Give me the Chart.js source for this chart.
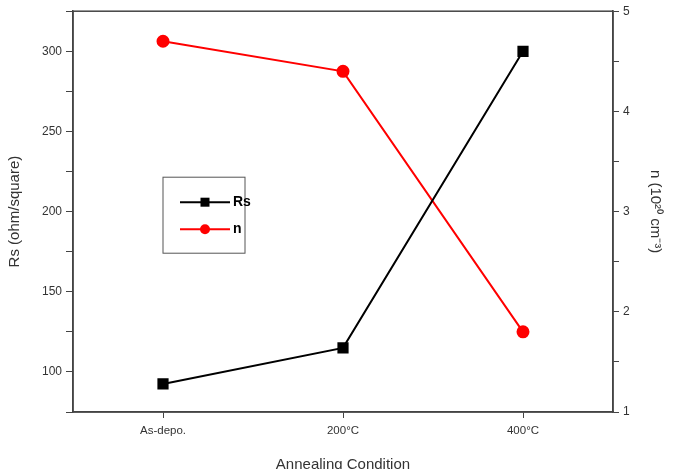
<!DOCTYPE html>
<html>
<head>
<meta charset="utf-8">
<script src="https://cdn.jsdelivr.net/npm/chart.js@4.4.0/dist/chart.umd.min.js"></script>
<style>
  html, body { margin: 0; padding: 0; background: #fff; }
  #wrap { width: 680px; height: 469px; }
</style>
</head>
<body>
<div id="wrap"><canvas id="myChart" width="680" height="469"></canvas></div>
<script>
// data
const categories = ['As-depo.', '200°C', '400°C'];
const rsValues = [92.5, 115, 300];
const nValues = [4.7, 4.4, 1.8];

const axisColor = '#444';
const textColor = '#333';

// draws the frame round the plot and the legend box inside it
const framePlugin = {
    id: 'frame',
    afterDraw(chart) {
        const ctx = chart.ctx;
        const a = chart.chartArea;
        ctx.save();
        ctx.strokeStyle = axisColor;
        ctx.lineWidth = 1.5;
        ctx.strokeRect(a.left, a.top, a.right - a.left, a.bottom - a.top);

        // legend
        const bx = a.left + 90, by = a.top + 166;
        ctx.lineWidth = 1;
        ctx.strokeStyle = '#555';
        ctx.strokeRect(bx, by, 82, 76);
        const items = [
            { label: 'Rs', color: '#000', shape: 'rect', y: by + 25 },
            { label: 'n', color: '#ff0000', shape: 'circle', y: by + 52 }
        ];
        items.forEach(function(it) {
            ctx.strokeStyle = it.color;
            ctx.fillStyle = it.color;
            ctx.lineWidth = 2;
            ctx.beginPath();
            ctx.moveTo(bx + 17, it.y);
            ctx.lineTo(bx + 67, it.y);
            ctx.stroke();
            if (it.shape === 'rect') {
                ctx.fillRect(bx + 42 - 4.5, it.y - 4.5, 9, 9);
            } else {
                ctx.beginPath();
                ctx.arc(bx + 42, it.y, 5, 0, Math.PI * 2);
                ctx.fill();
            }
            ctx.fillStyle = '#000';
            ctx.font = 'bold 14px "Liberation Sans", Arial, sans-serif';
            ctx.textBaseline = 'middle';
            ctx.textAlign = 'left';
            ctx.fillText(it.label, bx + 70, it.y);
        });
        ctx.restore();
    }
};

const tickFont = { family: '"Liberation Sans", Arial, sans-serif', size: 12 };
const titleFont = { family: '"Liberation Sans", Arial, sans-serif', size: 15 };

var ctx = document.getElementById('myChart').getContext('2d');
var myChart = new Chart(ctx, {
    type: 'line',
    data: {
        labels: categories,
        datasets: [{
            label: 'Rs',
            data: rsValues,
            yAxisID: 'y',
            borderColor: '#000',
            backgroundColor: '#000',
            borderWidth: 2,
            pointStyle: 'rect',
            pointRadius: 6.5,
            pointHoverRadius: 6.5,
            tension: 0
        }, {
            label: 'n',
            data: nValues,
            yAxisID: 'y2',
            borderColor: '#ff0000',
            backgroundColor: '#ff0000',
            borderWidth: 2,
            pointStyle: 'circle',
            pointRadius: 5.5,
            pointHoverRadius: 5.5,
            tension: 0
        }]
    },
    options: {
        responsive: false,
        animation: false,
        layout: { padding: { top: 10, left: 0, right: 0, bottom: 0 } },
        plugins: {
            legend: { display: false },
            tooltip: { enabled: false }
        },
        scales: {
            x: {
                offset: true,
                border: { color: axisColor, width: 1.5 },
                grid: { drawOnChartArea: false, color: axisColor, tickLength: 6, offset: false },
                ticks: { color: textColor, font: { family: tickFont.family, size: 11.5 }, padding: 6 },
                title: { display: true, text: 'Annealing Condition', color: textColor, font: titleFont, padding: { top: 12, bottom: -5 } },
                afterFit: function(s) { s.height = 57; }
            },
            y: {
                position: 'left',
                min: 75,
                max: 325,
                border: { color: axisColor, width: 1.5 },
                grid: { drawOnChartArea: false, color: axisColor, tickLength: 7 },
                ticks: {
                    stepSize: 25,
                    color: textColor,
                    font: tickFont,
                    padding: 4,
                    callback: function(v) { return v % 50 === 0 ? v : ''; }
                },
                title: { display: true, text: 'Rs (ohm/square)', color: textColor, font: titleFont, padding: { top: 6, bottom: 6 } },
                afterFit: function(s) { s.width = 73; }
            },
            y2: {
                position: 'right',
                min: 1,
                max: 5,
                border: { color: axisColor, width: 1.5 },
                grid: { drawOnChartArea: false, color: axisColor, tickLength: 6 },
                ticks: {
                    stepSize: 0.5,
                    color: textColor,
                    font: tickFont,
                    padding: 4,
                    callback: function(v) { return Number.isInteger(v) ? v : ''; }
                },
                title: { display: true, text: 'n (10²⁰ cm⁻³)', color: textColor, font: titleFont, padding: { top: 16, bottom: 0 } },
                afterFit: function(s) { s.width = 67; }
            }
        }
    },
    plugins: [framePlugin]
});
</script>
</body>
</html>
